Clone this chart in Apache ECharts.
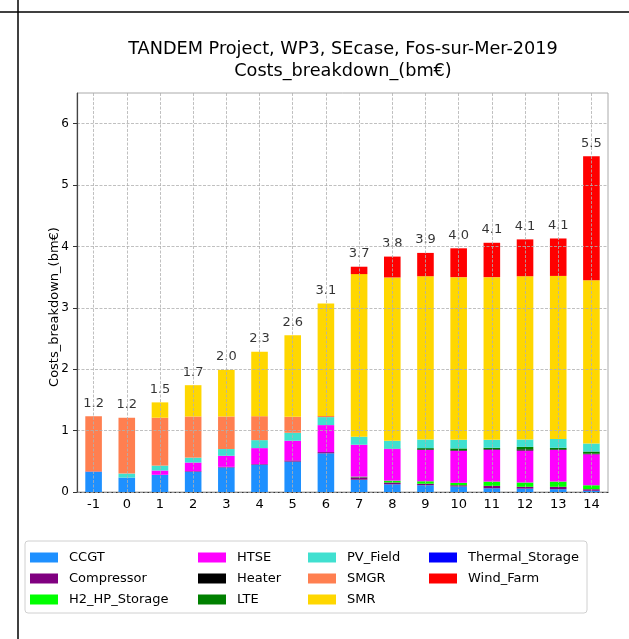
<!DOCTYPE html>
<html>
<head>
<meta charset="utf-8">
<script src="https://cdn.jsdelivr.net/npm/echarts@6/dist/echarts.min.js"></script>
<style>
  html, body { margin: 0; padding: 0; background: #fff; }
  #chart { width: 629px; height: 639px; }
</style>
</head>
<body>
<div id="chart"></div>
<script>
// categories on the x axis
const categories = ['-1', '0', '1', '2', '3', '4', '5', '6', '7', '8', '9', '10', '11', '12', '13', '14'];
const xGridValues = [-1, 0, 1, 2, 3, 4, 5, 6, 7, 8, 9, 10, 11, 12, 13, 14];

// cost components, bm€
const CCGT            = [0.33, 0.235, 0.28, 0.33, 0.40, 0.445, 0.495, 0.63, 0.20, 0.125, 0.11, 0.09, 0.06, 0.055, 0.045, 0.02];
const Compressor      = [0.005, 0, 0, 0.01, 0.01, 0.01, 0.02, 0.02, 0.04, 0.03, 0.025, 0.02, 0.04, 0.03, 0.04, 0.025];
const H2_HP_Storage   = [0, 0, 0, 0, 0, 0, 0, 0, 0.01, 0.03, 0.04, 0.04, 0.07, 0.07, 0.085, 0.065];
const HTSE            = [0, 0, 0.07, 0.14, 0.18, 0.26, 0.32, 0.44, 0.52, 0.515, 0.51, 0.52, 0.52, 0.52, 0.515, 0.505];
const Heater          = [0, 0, 0, 0, 0, 0, 0, 0, 0, 0.005, 0.01, 0.01, 0.01, 0.02, 0.01, 0.01];
const LTE             = [0, 0, 0, 0, 0, 0, 0, 0, 0, 0, 0.02, 0.03, 0.02, 0.04, 0.025, 0.035];
const PV_Field        = [0, 0.065, 0.08, 0.08, 0.11, 0.13, 0.13, 0.13, 0.13, 0.13, 0.14, 0.14, 0.13, 0.12, 0.145, 0.13];
const SMGR            = [0.90, 0.91, 0.78, 0.67, 0.53, 0.39, 0.26, 0.02, 0, 0, 0, 0, 0, 0, 0, 0];
const SMR             = [0, 0, 0.25, 0.51, 0.76, 1.05, 1.33, 1.83, 2.65, 2.66, 2.66, 2.65, 2.65, 2.66, 2.655, 2.66];
const Thermal_Storage = [0, 0, 0, 0, 0, 0, 0, 0, 0, 0, 0, 0, 0, 0, 0, 0];
const Wind_Farm       = [0, 0, 0, 0, 0, 0, 0, 0, 0.12, 0.34, 0.38, 0.47, 0.56, 0.60, 0.61, 2.02];

const yTicks = [0, 1, 2, 3, 4, 5, 6];

const components = [
  { name: 'CCGT', data: CCGT, color: '#1E90FF' },
  { name: 'Compressor', data: Compressor, color: '#800080' },
  { name: 'H2_HP_Storage', data: H2_HP_Storage, color: '#00FF00' },
  { name: 'HTSE', data: HTSE, color: '#FF00FF' },
  { name: 'Heater', data: Heater, color: '#000000' },
  { name: 'LTE', data: LTE, color: '#008000' },
  { name: 'PV_Field', data: PV_Field, color: '#40E0D0' },
  { name: 'SMGR', data: SMGR, color: '#FF7F50' },
  { name: 'SMR', data: SMR, color: '#FFD700' },
  { name: 'Thermal_Storage', data: Thermal_Storage, color: '#0000FF' },
  { name: 'Wind_Farm', data: Wind_Farm, color: '#FF0000' },
];

const totals = categories.map((c, i) => components.reduce((s, comp) => s + comp.data[i], 0));

const font = 'DejaVu Sans';
const gridLine = { color: '#b0b0b0', type: [3, 1.5], width: 0.8 };
const myChart = echarts.init(document.getElementById('chart'));

// legend in 4 columns, filled column by column
const legendCols = [
  { left: 25, names: ['CCGT', 'Compressor', 'H2_HP_Storage'] },
  { left: 193, names: ['HTSE', 'Heater', 'LTE'] },
  { left: 303, names: ['PV_Field', 'SMGR', 'SMR'] },
  { left: 424, names: ['Thermal_Storage', 'Wind_Farm'] },
];

const option = {
  animation: false,
  textStyle: { fontFamily: font },
  title: {
    text: 'TANDEM Project, WP3, SEcase, Fos-sur-Mer-2019\nCosts_breakdown_(bm€)',
    left: 338,
    top: 33,
    textAlign: 'center',
    textStyle: {
      fontFamily: font,
      fontSize: 17.7,
      fontWeight: 'normal',
      color: '#000',
      lineHeight: 22,
    },
  },
  legend: legendCols.map(col => ({
    data: col.names,
    orient: 'vertical',
    left: col.left,
    top: 546,
    itemWidth: 28,
    itemHeight: 10,
    itemGap: 8,
    icon: 'rect',
    selectedMode: false,
    textStyle: { fontFamily: font, fontSize: 13, color: '#000', padding: [0, 0, 0, 6] },
  })),
  grid: {
    left: 77,
    right: 21,
    top: 93,
    bottom: 147,
    show: true,
    borderColor: '#aaaaaa',
    borderWidth: 1,
  },
  xAxis: [
    {
      type: 'category',
      data: categories,
      axisLine: { lineStyle: { color: '#333', width: 1.2 } },
      axisTick: { alignWithLabel: true, length: 4, lineStyle: { color: '#333' } },
      axisLabel: { fontSize: 13, color: '#000', margin: 6 },
      splitLine: { show: false },
    },
    {
      // only carries the vertical grid lines through the bar centres
      type: 'value',
      min: -1.5,
      max: 14.5,
      position: 'bottom',
      z: 3,
      axisLine: { show: false },
      axisTick: { show: false, customValues: xGridValues },
      axisLabel: { show: false, customValues: xGridValues },
      splitLine: { show: true, lineStyle: gridLine },
    },
  ],
  yAxis: {
    type: 'value',
    min: 0,
    max: 6.5,
    interval: 1,
    z: 3,
    axisLine: { show: true, onZero: false, lineStyle: { color: '#444', width: 1.2 } },
    axisTick: { show: true, length: 4, customValues: yTicks, lineStyle: { color: '#333' } },
    axisLabel: { fontSize: 12, color: '#000', margin: 8, customValues: yTicks },
    splitLine: { lineStyle: gridLine },
  },
  series: [
    ...components.map(comp => ({
      name: comp.name,
      type: 'bar',
      stack: 'cost',
      barWidth: '50%',
      data: comp.data,
      itemStyle: { color: comp.color },
    })),
    {
      name: 'total',
      type: 'scatter',
      data: totals,
      symbolSize: 1,
      itemStyle: { color: 'rgba(0,0,0,0)' },
      label: {
        show: true,
        position: 'top',
        distance: 6,
        fontFamily: font,
        fontSize: 13,
        color: '#000',
        formatter: p => p.value.toFixed(1),
      },
    },
  ],
  graphic: [
    {
      type: 'text',
      x: 55,
      y: 307,
      rotation: Math.PI / 2,
      style: {
        text: 'Costs_breakdown_(bm€)',
        fontFamily: font,
        fontSize: 13,
        fill: '#000',
        align: 'center',
        verticalAlign: 'middle',
      },
    },
    { type: 'rect', shape: { x: 25, y: 541, width: 562, height: 72, r: 3 }, style: { fill: 'none', stroke: '#d0d0d0', lineWidth: 1 } },
    { type: 'line', shape: { x1: 0, y1: 12, x2: 629, y2: 12 }, style: { stroke: '#000', lineWidth: 1.5 } },
    { type: 'line', shape: { x1: 18, y1: 0, x2: 18, y2: 639 }, style: { stroke: '#000', lineWidth: 1.5 } },
  ],
};

myChart.setOption(option);
</script>
</body>
</html>
